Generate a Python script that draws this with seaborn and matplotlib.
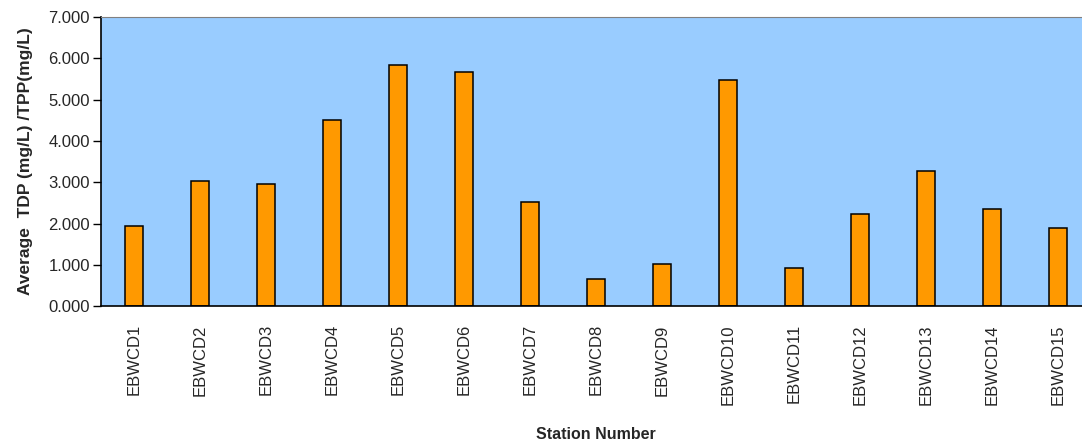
import numpy as np
import pandas as pd
import matplotlib
matplotlib.use("Agg")
import matplotlib.pyplot as plt
import seaborn as sns

## data
stations = ["EBWCD1", "EBWCD2", "EBWCD3", "EBWCD4", "EBWCD5", "EBWCD6", "EBWCD7", "EBWCD8",
            "EBWCD9", "EBWCD10", "EBWCD11", "EBWCD12", "EBWCD13", "EBWCD14", "EBWCD15"]
tdp_tpp = [1.95, 3.02, 2.95, 4.50, 5.83, 5.67, 2.52, 0.66,
           1.03, 5.47, 0.92, 2.22, 3.27, 2.35, 1.90]
yticks = [0, 1, 2, 3, 4, 5, 6, 7]

df = pd.DataFrame({"station": stations, "value": tdp_tpp})

sns.set_style("white")
plt.rcParams['font.family'] = ['Liberation Sans', 'DejaVu Sans']

fig = plt.figure(figsize=(10.82, 4.45), dpi=100)
ax = fig.add_axes([0.0933, 0.312, 0.915, 0.65])
ax.set_facecolor("#99CCFF")

sns.barplot(data=df, x="station", y="value", color="#FF9900", width=0.27,
            edgecolor="black", linewidth=1.1, saturation=1, ax=ax)

ax.set_ylim(0, 7)
ax.set_xlim(-0.5, len(stations) - 0.5)
ax.set_yticks(yticks)
ax.set_yticklabels([f"{v:.3f}" for v in yticks], fontsize=12)
ax.tick_params(axis="y", length=6, width=1, color="black", direction="out", left=True, pad=2)
ax.tick_params(axis="x", length=0, pad=13)
plt.setp(ax.get_xticklabels(), rotation=90, fontsize=12)

ax.set_xlabel("Station Number", fontsize=11.5, fontweight="bold", labelpad=16)
ax.set_ylabel("Average  TDP (mg/L) /TPP(mg/L)", fontsize=12.5, fontweight="bold", labelpad=11)

for side in ["left", "bottom"]:
    ax.spines[side].set_color("black")
    ax.spines[side].set_linewidth(1.2)
ax.spines["top"].set_color("#808080")
ax.spines["right"].set_visible(False)

fig.savefig("out.png", dpi=100)
